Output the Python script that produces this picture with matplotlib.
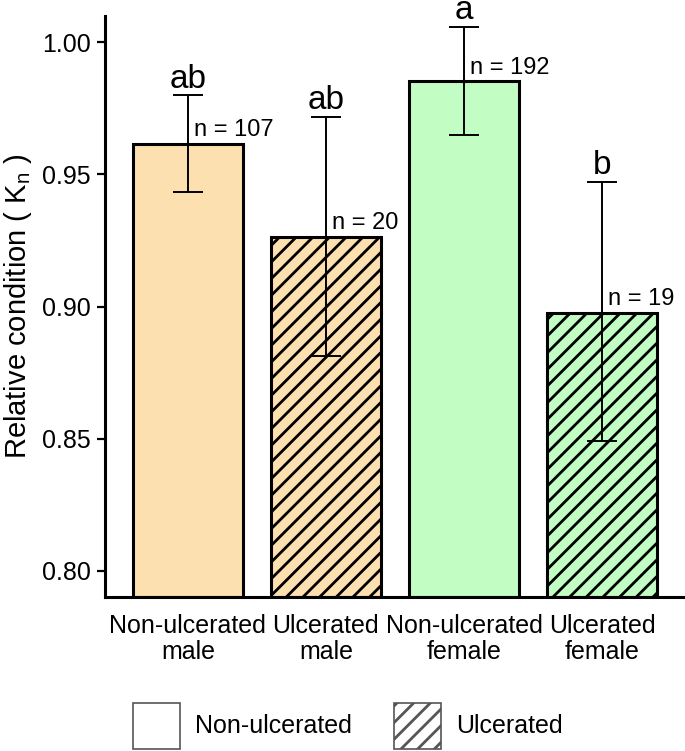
import matplotlib
matplotlib.use("Agg")
import matplotlib.pyplot as plt
from matplotlib.patches import Patch

plt.rcParams['font.family'] = ['Liberation Sans', 'DejaVu Sans']
plt.rcParams['hatch.linewidth'] = 2.0

categories = ["Non-ulcerated\nmale", "Ulcerated\nmale", "Non-ulcerated\nfemale", "Ulcerated\nfemale"]
means = [0.9614, 0.9265, 0.9852, 0.8977]
err_upper = [0.9799, 0.9716, 1.0060, 0.9470]
err_lower = [0.9432, 0.8814, 0.9648, 0.8489]
n_labels = ["n = 107", "n = 20", "n = 192", "n = 19"]
letters = ["ab", "ab", "a", "b"]
colors = ["#FDE0AF", "#FDE0AF", "#C2FDC4", "#C2FDC4"]
hatches = ["", "//", "", "//"]
yticks = [0.80, 0.85, 0.90, 0.95, 1.00]

fig = plt.figure(figsize=(6.85, 7.51), dpi=100)
ax = fig.add_axes([105/685, 1-597/751, (684-105)/685, (597-16)/751])

x = list(range(len(categories)))
for xi, m, c, h in zip(x, means, colors, hatches):
    ax.bar(xi, m - 0.790, bottom=0.790, width=0.8, color=c, edgecolor="black",
           linewidth=2.2, hatch=h, zorder=2)

yerr = [[m - lo for m, lo in zip(means, err_lower)], [hi - m for m, hi in zip(means, err_upper)]]
ax.errorbar(x, means, yerr=yerr, fmt="none", ecolor="black", elinewidth=1.4,
            capsize=10.5, capthick=1.4, zorder=3)

for xi, m, hi, nl, lt in zip(x, means, err_upper, n_labels, letters):
    ax.text(xi + 0.045, m + 0.003, nl, ha="left", va="baseline", fontsize=17, zorder=4,
            clip_on=False)
    ax.text(xi, hi + 0.0030, lt, ha="center", va="baseline", fontsize=24, zorder=4,
            clip_on=False)

ax.set_xlim(-0.60, 3.594)
ax.set_ylim(0.790, 1.010)
ax.set_yticks(yticks)
ax.set_yticklabels([f"{v:.2f}" for v in yticks], fontsize=18)
ax.set_xticks(x)
ax.set_xticklabels(categories, fontsize=18, linespacing=1.1)
ax.tick_params(axis="x", length=0, pad=12)
ax.tick_params(axis="y", length=6, width=1.6, pad=4)
for s in ["top", "right"]:
    ax.spines[s].set_visible(False)
for s in ["left", "bottom"]:
    ax.spines[s].set_linewidth(2.2)
ax.set_ylabel("Relative condition ( K$_\\mathregular{n}$ )", fontsize=21, labelpad=6)

handles = [Patch(facecolor="white", edgecolor="#555555", linewidth=1.2, label="Non-ulcerated"),
           Patch(facecolor="white", edgecolor="#555555", linewidth=1.2, hatch="//", label="Ulcerated")]
fig.legend(handles=handles, loc="lower center", bbox_to_anchor=(0.508, 0.0), ncol=2,
           frameon=False, fontsize=18, handlelength=1.88, handleheight=2.45,
           handletextpad=0.6, columnspacing=1.7, borderpad=0.05, borderaxespad=0.05)

fig.savefig("out.png", dpi=100)
